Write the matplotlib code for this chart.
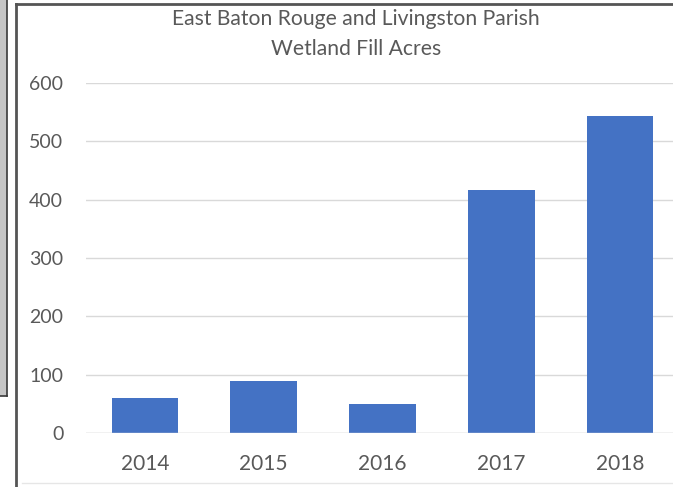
import matplotlib.pyplot as plt
from matplotlib.patches import Rectangle
from matplotlib.lines import Line2D

years = ['2014', '2015', '2016', '2017', '2018']
acres = [60, 89, 50, 417, 543]
yticks = [0, 100, 200, 300, 400, 500, 600]

W, H = 673, 487
fig = plt.figure(figsize=(W / 100, H / 100), dpi=100)
plt.rcParams['font.family'] = ['Lato', 'DejaVu Sans']
grey = '#595959'


def px(x, y):
    # pixel coords (top-left origin) -> figure fraction
    return x / W, 1 - y / H


# piece of another window on the left edge
fig.patches.append(Rectangle(px(0, 396), 7 / W, 396 / H, transform=fig.transFigure,
                             facecolor='#c6c6c6', edgecolor='none', zorder=0))
fig.add_artist(Line2D([6.5 / W, 6.5 / W], [1, 1 - 396 / H], color='#3a3a3a', lw=1.2))
fig.add_artist(Line2D([0, 6.5 / W], [1 - 396 / H, 1 - 396 / H], color='#3a3a3a', lw=1.2))

# chart frame
fig.add_artist(Line2D([16 / W, 16 / W], [0, 1 - 4 / H], color='#555555', lw=2))
fig.add_artist(Line2D([16 / W, 1], [1 - 4 / H, 1 - 4 / H], color='#555555', lw=2))
fig.add_artist(Line2D([22 / W, 1], [1 - 483 / H, 1 - 483 / H], color='#e6e6e6', lw=1))

left, bottom = px(85.5, 433)
right, top = px(679.5, 83)
ax = fig.add_axes([left, bottom, right - left, top - bottom])

x = range(len(years))
ax.bar(x, acres, width=0.56, color='#4472C4', zorder=3)
ax.set_xlim(-0.5, len(years) - 0.5)
ax.set_ylim(0, 600)
ax.set_yticks(yticks)
ax.set_xticks(list(x))
ax.set_xticklabels(years)
ax.grid(axis='y', color='#d9d9d9', lw=1, zorder=0)
for s in ax.spines.values():
    s.set_visible(False)
ax.axhline(0, color='#d9d9d9', lw=1, zorder=4)
ax.tick_params(length=0, colors=grey)
ax.tick_params(axis='y', pad=16, labelsize=14)
ax.tick_params(axis='x', pad=15, labelsize=15)

fig.text(356 / W, 1 - 19 / H, 'East Baton Rouge and Livingston Parish',
         ha='center', va='center', color=grey, fontsize=15.2)
fig.text(356 / W, 1 - 49 / H, 'Wetland Fill Acres',
         ha='center', va='center', color=grey, fontsize=15.2)

fig.savefig('out.png', dpi=100)
